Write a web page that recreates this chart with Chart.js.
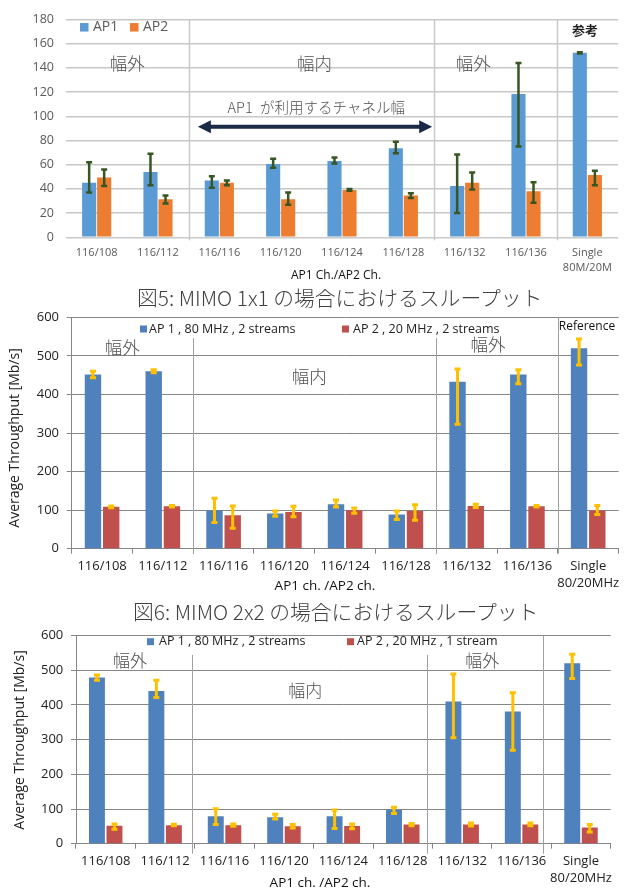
<!DOCTYPE html>
<html><head><meta charset="utf-8">
<script src="https://cdn.jsdelivr.net/npm/chart.js@4/dist/chart.umd.min.js"></script>
<style>
html,body{margin:0;padding:0;background:#fff;width:624px;height:891px;overflow:hidden;position:relative;}
canvas{position:absolute;left:0;}
.cap{position:absolute;white-space:nowrap;font-family:"Noto Sans CJK JP",sans-serif;font-weight:300;font-size:20.8px;line-height:24px;color:#404040;z-index:5;}
</style></head>
<body>
<canvas id="c1" width="624" height="290" style="top:0px"></canvas>
<canvas id="c2" width="624" height="300" style="top:300px"></canvas>
<canvas id="c3" width="624" height="271" style="top:620px"></canvas>
<div class="cap" style="left:137px;top:285px">図5: MIMO 1x1 の場合におけるスループット</div>
<div class="cap" style="left:133px;top:599px">図6: MIMO 2x2 の場合におけるスループット</div>
<script>
// ---------- data ----------
const channels = ['116/108','116/112','116/116','116/120','116/124','116/128','116/132','116/136'];
const fig5Labels = [...channels, ['Single','80M/20M']];
const fig6Labels = [...channels, ['Single','80/20MHz']];

// Fig 5 : MIMO 1x1
const fig5AP1   = [45, 54, 47, 60.5, 63, 73.5, 42.5, 118.5, 152.5];
const fig5AP1Lo = [37, 43, 41, 57.5, 61, 69.5, 20, 75, 152];
const fig5AP1Hi = [62, 69, 50.5, 65, 66, 79, 68.5, 144, 153];
const fig5AP2   = [49.5, 31.5, 45, 31.5, 39, 34.5, 45, 38, 51.5];
const fig5AP2Lo = [42.5, 28, 43, 27, 38.5, 32.5, 39.5, 28.5, 43];
const fig5AP2Hi = [56, 34.5, 47, 37, 40, 36.5, 53.5, 45.5, 55];

// Fig 6 : MIMO 2x2 (AP2 2 streams)
const fig6AP1   = [452, 460, 99, 91, 115, 89, 433, 452, 520];
const fig6AP1Lo = [443, 456, 68, 84, 108, 76, 323, 428, 476];
const fig6AP1Hi = [460, 464, 131, 98, 126, 98, 466, 464, 544];
const fig6AP2   = [109, 110, 87, 95, 99.5, 98, 111, 110, 99];
const fig6AP2Lo = [106, 108, 53, 83, 92, 74, 107, 108, 89];
const fig6AP2Hi = [111, 112, 111, 110, 105.5, 114, 115, 112, 112];

// Fig 7 : MIMO 2x2 (AP2 1 stream)
const fig7AP1   = [479, 440, 79, 76, 79, 98, 410, 381, 520];
const fig7AP1Lo = [471, 421, 55, 71, 44, 87, 305, 269, 476];
const fig7AP1Hi = [486, 471, 101, 85, 97, 105, 489, 435, 546];
const fig7AP2   = [52, 53, 53, 50.5, 51, 55, 55, 55, 46.5];
const fig7AP2Lo = [42, 52, 50.5, 45.5, 43, 52, 51, 52, 34];
const fig7AP2Hi = [57, 56, 57, 55, 57, 58, 60, 60, 55];

const LAT = '"Open Sans", "Noto Sans CJK JP", sans-serif';
const JP = '"Noto Sans CJK JP", sans-serif';

// ---------- overlay plugin factory ----------
function makeOverlay(cfg){
  return {
    id:'overlay',
    beforeDatasetsDraw(chart){
      const {ctx, chartArea:ca, scales:{x,y}} = chart;
      const step = x.getPixelForValue(1) - x.getPixelForValue(0);
      const px = v => x.getPixelForValue(0) + v*step;
      ctx.save();
      ctx.strokeStyle = cfg.sepColor; ctx.lineWidth = cfg.sepWidth;
      (cfg.separators||[]).forEach(s=>{
        const xx = Math.round(px(s.at))+0.5;
        ctx.beginPath(); ctx.moveTo(xx, y.getPixelForValue(s.from)); ctx.lineTo(xx, ca.bottom + s.ext); ctx.stroke();
      });
      ctx.restore();
    },
    afterDatasetsDraw(chart){
      const {ctx, chartArea:ca, scales:{x,y}} = chart;
      const step = x.getPixelForValue(1) - x.getPixelForValue(0);
      const px = v => x.getPixelForValue(0) + v*step;
      ctx.save();
      // error bars
      (cfg.errors||[]).forEach((e,di)=>{
        const meta = chart.getDatasetMeta(di);
        meta.data.forEach((bar,i)=>{
          const yt = y.getPixelForValue(e.hi[i]), yb = y.getPixelForValue(e.lo[i]);
          ctx.strokeStyle = cfg.errColor; ctx.lineWidth = cfg.errWidth; ctx.lineCap='butt';
          ctx.beginPath();
          ctx.moveTo(bar.x, yt); ctx.lineTo(bar.x, yb);
          ctx.moveTo(bar.x-cfg.errCap/2, yt); ctx.lineTo(bar.x+cfg.errCap/2, yt);
          ctx.moveTo(bar.x-cfg.errCap/2, yb); ctx.lineTo(bar.x+cfg.errCap/2, yb);
          ctx.stroke();
        });
      });
      // arrow
      if (cfg.arrow){
        const a = cfg.arrow, x1 = px(a.x1), x2 = px(a.x2), yy = y.getPixelForValue(a.y);
        ctx.strokeStyle = a.color; ctx.fillStyle = a.color; ctx.lineWidth = a.w;
        ctx.beginPath(); ctx.moveTo(x1+a.head-1, yy); ctx.lineTo(x2-a.head+1, yy); ctx.stroke();
        ctx.beginPath(); ctx.moveTo(x1, yy); ctx.lineTo(x1+a.head, yy-a.hh); ctx.lineTo(x1+a.head, yy+a.hh); ctx.closePath(); ctx.fill();
        ctx.beginPath(); ctx.moveTo(x2, yy); ctx.lineTo(x2-a.head, yy-a.hh); ctx.lineTo(x2-a.head, yy+a.hh); ctx.closePath(); ctx.fill();
      }
      // texts in data coordinates
      ctx.textAlign='center'; ctx.textBaseline='middle';
      (cfg.texts||[]).forEach(t=>{
        ctx.font = t.font; ctx.fillStyle = t.color;
        ctx.fillText(t.t, px(t.x), y.getPixelForValue(t.y));
      });
      // legend (canvas px)
      (cfg.legend||[]).forEach(l=>{
        ctx.fillStyle = l.color; ctx.fillRect(l.x, l.y - l.s/2, l.s, l.s);
        ctx.font = cfg.legendFont; ctx.fillStyle = cfg.legendColor; ctx.textAlign='left';
        ctx.fillText(l.t, l.tx, l.y);
      });
      // axis titles
      if (cfg.xTitle){
        ctx.textAlign='center'; ctx.font = cfg.xTitle.font; ctx.fillStyle = cfg.xTitle.color;
        ctx.fillText(cfg.xTitle.t, cfg.xTitle.x, cfg.xTitle.y);
      }
      if (cfg.yTitle){
        ctx.save(); ctx.translate(cfg.yTitle.x, cfg.yTitle.y); ctx.rotate(-Math.PI/2);
        ctx.textAlign='center'; ctx.font = cfg.yTitle.font; ctx.fillStyle = cfg.yTitle.color;
        ctx.fillText(cfg.yTitle.t, 0, 0); ctx.restore();
      }
      ctx.restore();
    }
  };
}

function baseOpts(pad){
  return {responsive:false, animation:false, devicePixelRatio:1, layout:{padding:pad},
    plugins:{legend:{display:false}, tooltip:{enabled:false}}};
}

// ---------- Fig 5 ----------
(function(){
  const o = baseOpts({left:0, top:14, right:6, bottom:12.7});
  o.scales = {
    x:{grid:{display:false, drawTicks:false}, border:{display:false},
       ticks:{font:{family:LAT, size:11, lineHeight:1.35}, color:'#595959', padding:8.5, maxRotation:0, autoSkip:false},
       afterFit(s){s.height=40;}},
    y:{min:0, max:180, ticks:{stepSize:20, font:{family:LAT, size:12.5}, color:'#595959', padding:12},
       grid:{color:'#C8C8C8', lineWidth:1.5, drawTicks:false}, border:{display:false},
       afterFit(s){s.width=66;}}
  };
  new Chart(document.getElementById('c1'), {
    type:'bar',
    data:{labels:fig5Labels, datasets:[
      {label:'AP1', data:fig5AP1, backgroundColor:'#5B9BD5', categoryPercentage:0.49, barPercentage:0.94},
      {label:'AP2', data:fig5AP2, backgroundColor:'#ED7D31', categoryPercentage:0.49, barPercentage:0.94}
    ]},
    options:o,
    plugins:[makeOverlay({
      sepColor:'#C8C8C8', sepWidth:1.5,
      separators:[{at:1.5, from:180, ext:3},{at:5.5, from:180, ext:3},{at:7.5, from:180, ext:3}],
      errColor:'#375623', errWidth:2.5, errCap:6,
      errors:[{lo:fig5AP1Lo, hi:fig5AP1Hi},{lo:fig5AP2Lo, hi:fig5AP2Hi}],
      arrow:{x1:1.65, x2:5.47, y:91.4, color:'#1B2A47', w:4, head:13, hh:6.5},
      texts:[
        {t:'幅外', x:0.5, y:144, font:'300 17.5px '+JP, color:'#505050'},
        {t:'幅内', x:3.55, y:144, font:'300 17.5px '+JP, color:'#505050'},
        {t:'幅外', x:6.14, y:144, font:'300 17.5px '+JP, color:'#505050'},
        {t:'AP1\u2002が利用するチャネル幅', x:3.58, y:107.5, font:'300 14.5px '+JP, color:'#505050'},
        {t:'参考', x:7.96, y:171.5, font:'bold 13px '+JP, color:'#222'}
      ],
      legendFont:'14px '+LAT, legendColor:'#595959',
      legend:[{t:'AP1', color:'#5B9BD5', x:80, y:27.3, s:8.5, tx:93},
              {t:'AP2', color:'#ED7D31', x:130, y:27.3, s:8.5, tx:143}],
      xTitle:{t:'AP1 Ch./AP2 Ch.', x:336, y:276, font:'12px '+LAT, color:'#111'}
    })]
  });
})();

// ---------- Fig 6 ----------
(function(){
  const o = baseOpts({left:0, top:17.3, right:0, bottom:11.3});
  o.scales = {
    x:{grid:{drawOnChartArea:false, drawTicks:true, tickLength:5, color:'#868686'}, border:{display:true, color:'#868686'},
       ticks:{font:{family:LAT, size:13, lineHeight:1.25}, color:'#222', padding:4.9, maxRotation:0, autoSkip:false},
       afterFit(s){s.height=40;}},
    y:{min:0, max:600, ticks:{stepSize:100, font:{family:LAT, size:13}, color:'#222', padding:7.7},
       grid:{color:'#868686', lineWidth:1, drawTicks:true, tickLength:5}, border:{display:true, color:'#868686'},
       afterFit(s){s.width=71.7;}}
  };
  new Chart(document.getElementById('c2'), {
    type:'bar',
    data:{labels:fig6Labels, datasets:[
      {label:'AP 1 , 80 MHz , 2 streams', data:fig6AP1, backgroundColor:'#4F81BD', categoryPercentage:0.6, barPercentage:0.9},
      {label:'AP 2 , 20 MHz , 2 streams', data:fig6AP2, backgroundColor:'#C0504D', categoryPercentage:0.6, barPercentage:0.9}
    ]},
    options:o,
    plugins:[makeOverlay({
      sepColor:'#A0A0A0', sepWidth:1,
      separators:[{at:1.5, from:546, ext:5},{at:5.5, from:546, ext:5},{at:7.5, from:600, ext:5}],
      errColor:'#FFC000', errWidth:3, errCap:6,
      errors:[{lo:fig6AP1Lo, hi:fig6AP1Hi},{lo:fig6AP2Lo, hi:fig6AP2Hi}],
      texts:[
        {t:'幅外', x:0.33, y:523, font:'300 17.5px '+JP, color:'#505050'},
        {t:'幅内', x:3.41, y:448, font:'300 17.5px '+JP, color:'#505050'},
        {t:'幅外', x:6.35, y:531, font:'300 17.5px '+JP, color:'#505050'},
        {t:'Reference', x:7.98, y:577, font:'12px '+LAT, color:'#111'}
      ],
      legendFont:'12.5px '+LAT, legendColor:'#222',
      legend:[{t:'AP 1 , 80 MHz , 2 streams', color:'#4F81BD', x:140, y:29, s:7, tx:149},
              {t:'AP 2 , 20 MHz , 2 streams', color:'#C0504D', x:342, y:29, s:7, tx:353}],
      xTitle:{t:'AP1 ch. /AP2 ch.', x:325, y:286, font:'13.5px '+LAT, color:'#111'},
      yTitle:{t:'Average Throughput [Mb/s]', x:15, y:138, font:'14px '+LAT, color:'#222'}
    })]
  });
})();

// ---------- Fig 7 ----------
(function(){
  const o = baseOpts({left:0, top:13.3, right:13.3, bottom:7.3});
  o.scales = {
    x:{grid:{drawOnChartArea:false, drawTicks:true, tickLength:5, color:'#868686'}, border:{display:true, color:'#868686'},
       ticks:{font:{family:LAT, size:13, lineHeight:1.25}, color:'#222', padding:4.9, maxRotation:0, autoSkip:false},
       afterFit(s){s.height=40;}},
    y:{min:0, max:600, ticks:{stepSize:100, font:{family:LAT, size:13}, color:'#222', padding:7.7},
       grid:{color:'#868686', lineWidth:1, drawTicks:true, tickLength:5}, border:{display:true, color:'#868686'},
       afterFit(s){s.width=76;}}
  };
  new Chart(document.getElementById('c3'), {
    type:'bar',
    data:{labels:fig6Labels, datasets:[
      {label:'AP 1 , 80 MHz , 2 streams', data:fig7AP1, backgroundColor:'#4F81BD', categoryPercentage:0.59, barPercentage:0.91},
      {label:'AP 2 , 20 MHz , 1 stream', data:fig7AP2, backgroundColor:'#C0504D', categoryPercentage:0.59, barPercentage:0.91}
    ]},
    options:o,
    plugins:[makeOverlay({
      sepColor:'#A0A0A0', sepWidth:1,
      separators:[{at:1.45, from:544, ext:10},{at:5.41, from:544, ext:10},{at:7.36, from:600, ext:10}],
      errColor:'#FFC000', errWidth:3, errCap:6,
      errors:[{lo:fig7AP1Lo, hi:fig7AP1Hi},{lo:fig7AP2Lo, hi:fig7AP2Hi}],
      texts:[
        {t:'幅外', x:0.41, y:527, font:'300 17px '+JP, color:'#505050'},
        {t:'幅内', x:3.36, y:441, font:'300 17px '+JP, color:'#505050'},
        {t:'幅外', x:6.34, y:527, font:'300 17px '+JP, color:'#505050'}
      ],
      legendFont:'12.5px '+LAT, legendColor:'#222',
      legend:[{t:'AP 1 , 80 MHz , 2 streams', color:'#4F81BD', x:147, y:21.7, s:7, tx:159},
              {t:'AP 2 , 20 MHz , 1 stream', color:'#C0504D', x:347, y:21.7, s:7, tx:357}],
      xTitle:{t:'AP1 ch. /AP2 ch.', x:320, y:262.7, font:'13.5px '+LAT, color:'#111'},
      yTitle:{t:'Average Throughput [Mb/s]', x:20, y:120, font:'14px '+LAT, color:'#222'}
    })]
  });
})();
</script>
</body></html>
